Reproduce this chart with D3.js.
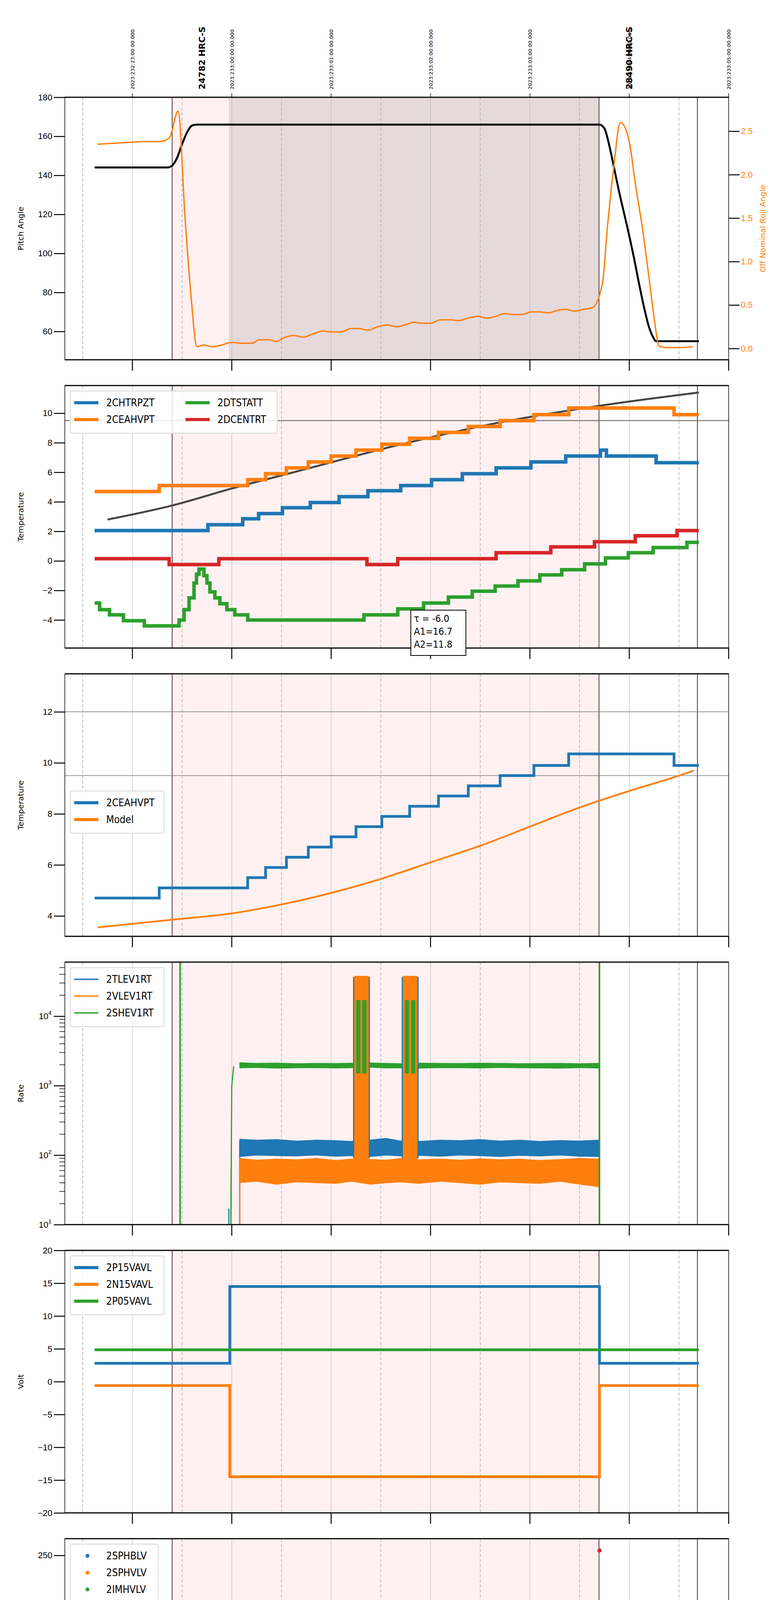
<!DOCTYPE html>
<html>
<head>
<meta charset="utf-8">
<script src="https://cdn.jsdelivr.net/npm/d3@7"></script>
<style>
html,body{margin:0;padding:0;background:#fff;width:2000px;height:6200px;overflow:hidden}
svg{display:block;font-family:"DejaVu Sans Condensed","DejaVu Sans",sans-serif}
.tick text{font-size:22px}
</style>
</head>
<body>
<div id="chart"></div>
<script>
// time in hours from 2023:233:00:00 UTC (20h local)
var hourTicks = [-1,0,1,2,3,4,5]
var hourLabels = ["19h","20h","21h","22h","23h","00h","01h"]
var halfTicks = [-1.5,-0.5,0.5,1.5,2.5,3.5,4.5]
var dateLabels = ["2023:232:23:00:00.000","2023:233:00:00:00.000","2023:233:01:00:00.000","2023:233:02:00:00.000","2023:233:03:00:00.000","2023:233:04:00:00.000","2023:233:05:00:00.000"]
var obsLines = [-0.6,3.695,4.685]
var obsLabels = [{t:-0.305,text:"24782 HRC-S"},{t:3.995,text:"28490 HRC-S"}]
var pinkSpan = [-0.6,3.695]
var darkSpan = [-0.03,3.695]

// panel 1
var pitch = [[-1.38,144],[-0.65,144],[-0.6,145],[-0.55,149],[-0.5,156],[-0.45,162],[-0.4,165.5],[-0.35,166],[3.7,166],[3.75,164],[3.8,155],[3.85,143],[3.9,131],[3.95,120],[4.0,109],[4.05,97],[4.1,84],[4.15,72],[4.2,62],[4.24,57],[4.27,55],[4.7,55]]
var roll = [[-1.35,2.35],[-1.2,2.36],[-1.05,2.37],[-0.9,2.38],[-0.73,2.38],[-0.63,2.42],[-0.54,2.73],[-0.47,1.5],[-0.41,0.6],[-0.35,0.02],[-0.28,0.04],[-0.2,0.02],[-0.1,0.04],[0,0.07],[0.1,0.06],[0.2,0.06],[0.28,0.1],[0.38,0.1],[0.45,0.08],[0.52,0.12],[0.62,0.15],[0.72,0.13],[0.8,0.16],[0.92,0.2],[1.0,0.19],[1.1,0.19],[1.2,0.23],[1.28,0.23],[1.37,0.21],[1.47,0.25],[1.57,0.27],[1.66,0.25],[1.74,0.27],[1.83,0.3],[1.92,0.29],[2.0,0.29],[2.1,0.33],[2.2,0.33],[2.28,0.32],[2.38,0.35],[2.48,0.37],[2.56,0.35],[2.66,0.37],[2.74,0.4],[2.84,0.39],[2.92,0.39],[3.01,0.42],[3.1,0.42],[3.19,0.41],[3.28,0.44],[3.36,0.45],[3.45,0.43],[3.54,0.45],[3.63,0.47],[3.73,0.75],[3.78,1.4],[3.84,2.05],[3.91,2.6],[4.0,2.38],[4.06,1.9],[4.13,1.4],[4.2,0.8],[4.25,0.35],[4.3,0.03],[4.37,0.01],[4.5,0.01],[4.64,0.02]]

// panel 2 (step data: value holds until next time)
var chtrpzt = [[-1.38,2.05],[-0.24,2.45],[0.11,2.85],[0.27,3.2],[0.51,3.6],[0.79,3.95],[1.08,4.35],[1.37,4.75],[1.7,5.1],[2.01,5.5],[2.32,5.9],[2.66,6.3],[3.01,6.7],[3.36,7.1],[3.71,7.5],[3.77,7.1],[4.27,6.65],[4.7,6.65]]
var ceahvpt = [[-1.38,4.7],[-0.73,5.1],[0.16,5.5],[0.34,5.9],[0.55,6.3],[0.77,6.7],[1.0,7.1],[1.25,7.5],[1.51,7.9],[1.79,8.3],[2.08,8.7],[2.38,9.1],[2.7,9.5],[3.04,9.9],[3.39,10.35],[4.45,9.9],[4.7,9.9]]
var dtstatt = [[-1.38,-2.85],[-1.33,-3.3],[-1.23,-3.65],[-1.09,-4.05],[-0.88,-4.4],[-0.53,-4.0],[-0.48,-3.3],[-0.43,-2.5],[-0.38,-1.5],[-0.355,-0.9],[-0.33,-0.55],[-0.28,-1.0],[-0.25,-1.5],[-0.22,-2.1],[-0.17,-2.5],[-0.12,-2.9],[-0.05,-3.3],[0.03,-3.65],[0.16,-4.0],[1.33,-3.65],[1.67,-3.25],[1.93,-2.85],[2.18,-2.45],[2.42,-2.05],[2.65,-1.7],[2.88,-1.35],[3.1,-0.95],[3.32,-0.6],[3.55,-0.2],[3.76,0.2],[3.99,0.55],[4.24,0.9],[4.58,1.25],[4.7,1.25]]
var dcentrt = [[-1.38,0.15],[-0.63,-0.25],[-0.13,0.15],[1.36,-0.25],[1.67,0.15],[2.66,0.55],[3.21,0.95],[3.65,1.3],[4.06,1.7],[4.48,2.05],[4.7,2.05]]
var tempModel = [[-1.25,2.8],[-0.6,3.75],[0,4.9],[0.68,6.1],[1.68,7.85],[2.68,9.35],[3.7,10.5],[4.7,11.4]]
var tauText = ["τ = -6.0","A1=16.7","A2=11.8"]

// panel 3
var ceaModel = [[-1.35,3.55],[-0.6,3.85],[0,4.1],[0.5,4.45],[1,4.9],[1.5,5.45],[2,6.1],[2.5,6.75],[3,7.5],[3.5,8.25],[4,8.9],[4.5,9.5],[4.65,9.7]]

// panel 4 rates: noise envelopes (low/high)
var envT   = [0.08,0.25,0.45,0.65,0.85,1.05,1.2,1.4,1.55,1.7,1.88,2.1,2.3,2.5,2.7,2.9,3.1,3.3,3.5,3.69]
var tlevHi = [170,165,168,160,165,162,158,166,175,160,158,165,162,168,160,165,158,163,160,165]
var tlevLo = [95,100,98,97,100,96,98,95,100,97,99,96,100,98,95,99,97,100,96,95]
var vlevHi = [90,85,88,86,90,84,88,87,85,90,86,88,85,89,86,88,84,87,90,88]
var vlevLo = [40,42,38,41,40,39,42,38,40,41,39,42,40,38,41,40,39,42,38,35]
var shevHi = [2150,2100,2120,2080,2100,2090,2110,2130,2100,2080,2120,2100,2090,2110,2100,2080,2090,2100,2080,2100]
var shevLo = [1800,1820,1780,1800,1810,1790,1800,1830,1790,1800,1780,1810,1800,1790,1820,1800,1790,1780,1810,1790]
var rateBursts = [[1.22,1.39],[1.71,1.88]]
var burstHigh = {tlev:35000,vlev:38000,shev:17000}
var shevSpikes = [-0.52,3.7]

// panel 5 volts
var p15 = [[-1.38,2.8],[-0.02,14.5],[3.7,2.8],[4.7,2.8]]
var n15 = [[-1.38,-0.6],[-0.02,-14.5],[3.7,-0.6],[4.7,-0.6]]
var p05 = [[-1.38,4.85],[4.7,4.85]]

// panel 6 HV monitor
var sphblvPts = [[0.03,118],[0.03,102],[0.04,102],[0.05,97],[0.06,92],[0.065,88],[0.07,85],[0.08,82],[0.09,78]]
var sphvlvPts = [[0.03,127],[0.03,123],[0.035,96],[0.045,90],[0.055,86],[0.06,84],[0.065,80],[0.075,75],[0.08,71],[1.23,127],[1.3,127],[1.35,127],[1.78,127],[1.8,127],[1.83,127],[1.9,127]]
var imhblvPts = [[3.7,255]]
var sphblvRun = [0.09,3.7,77.5]
var sphvlvRun = [0.08,3.7,70.5]

// panel 7 detector temps
var spinatm = [[0.0,4.15],[0.11,3.7],[0.25,3.25],[0.56,2.8],[1.2,3.25],[2.2,3.7],[2.86,4.15],[3.67,4.6],[3.7,4.6]]
var sphvatm = [[0.0,14.4],[0.17,14.8],[0.24,15.1],[0.3,15.4],[0.38,15.8],[0.5,16.1],[0.59,16.4],[0.67,16.7],[0.77,17.0],[0.87,17.3],[0.99,17.6],[1.12,17.9],[1.25,18.2],[1.3,18.5],[1.4,18.7],[1.5,19.0],[1.7,19.4],[1.88,19.6],[2.16,19.9],[2.42,20.2],[2.67,20.5],[2.99,20.8],[3.28,21.1],[3.7,21.1]]
var iminatm = [[0.0,0.2],[0.08,0.6],[1.7,1.05],[2.95,1.45],[3.65,1.95],[3.7,1.95]]
var imhvatm = [[0.0,13.9],[0.43,14.2],[0.68,14.5],[0.91,14.75],[1.12,15.0],[1.35,15.5],[1.7,15.8],[1.88,16.1],[2.28,16.4],[2.55,16.65],[2.8,16.95],[3.07,17.25],[3.37,17.5],[3.66,17.9],[3.7,17.9]]
var detBlocks = [
  {s:0,t0:1.2,t1:1.4,lo:-0.8,hi:2.8},{s:0,t0:1.7,t1:1.85,lo:-0.8,hi:0.9},
  {s:1,t0:1.2,t1:1.4,lo:10.8,hi:18.5},{s:1,t0:1.7,t1:1.88,lo:11.4,hi:19.4},
  {s:2,t0:1.2,t1:1.4,lo:0.6,hi:3.3},{s:2,t0:1.7,t1:1.88,lo:1.0,hi:3.3},
  {s:3,t0:1.2,t1:1.4,lo:15.2,hi:18.7},{s:3,t0:1.7,t1:1.88,lo:15.8,hi:19.4}]
var detVert = [{s:3,t:-0.02,lo:-0.8,hi:13.9},{s:3,t:3.71,lo:-0.8,hi:22},{s:1,t:1.89,lo:1.1,hi:19.6}]

// panel 8 FEA temps
var fhtrmzt = [[0.13,-8.3],[0.14,-8.0],[0.26,-7.6],[0.38,-7.15],[0.5,-6.75],[0.6,-6.35],[0.71,-5.95],[0.795,-4.4],[0.8,-5.55],[0.94,-5.2],[1.06,-4.8],[1.18,-4.4],[1.3,-4.0],[1.43,-3.6],[1.62,-3.3],[1.67,-2.85],[1.8,-2.5],[1.81,-1.35],[1.815,-2.5],[1.94,-2.1],[2.07,-1.75],[2.2,-1.4],[2.35,-1.05],[2.48,-0.65],[2.62,-0.25],[2.77,0.15],[2.92,0.5],[3.07,0.9],[3.22,1.25],[3.38,1.65],[3.53,2.0],[3.7,2.4],[4.15,2.05],[4.4,1.65],[4.63,1.25],[4.7,1.25]]
var fradpyt = [[0.5,-8.3],[0.51,-8.0],[0.63,-7.6],[0.74,-7.2],[0.86,-6.8],[0.98,-6.4],[1.1,-6.0],[1.24,-5.6],[1.37,-5.2],[1.5,-4.8],[1.63,-4.4],[1.77,-4.0],[1.91,-3.65],[2.05,-3.3],[2.19,-2.9],[2.34,-2.5],[2.49,-2.15],[2.64,-1.75],[2.79,-1.35],[2.96,-1.0],[3.12,-0.6],[3.3,-0.25],[3.46,0.15],[3.63,0.55],[3.92,0.15],[4.08,-0.25],[4.21,-0.6],[4.36,-1.0],[4.52,-1.4],[4.7,-1.4]]
var fepratm = [[-0.02,-7.5],[0.0,-7.0],[0.05,-6.6],[0.1,-6.2],[0.15,-5.8],[0.2,-5.4],[0.26,-5.0],[0.35,-4.6],[0.43,-4.2],[0.53,-3.8],[0.65,-3.4],[0.76,-3.0],[0.86,-2.6],[0.98,-2.2],[1.1,-1.8],[1.23,-1.4],[1.36,-1.0],[1.48,-0.6],[1.63,-0.2],[1.77,0.2],[1.92,0.6],[2.0,1.1],[2.23,1.5],[2.4,1.9],[2.56,2.35],[2.73,2.8],[2.91,3.25],[3.1,3.7],[3.27,4.15],[3.47,4.6],[3.48,4.6]]
var fe00atm = [[-0.02,-6.3],[0.08,-5.95],[0.17,-5.6],[0.26,-5.25],[0.355,-4.9],[0.43,-4.5],[0.505,-4.15],[0.59,-3.8],[0.655,-3.45],[0.77,-3.05],[0.87,-2.8],[0.97,-2.45],[1.1,-2.05],[1.23,-1.45],[1.41,-1.25],[1.62,-0.15],[1.81,0.5],[1.92,0.8],[2.1,1.1],[2.135,1.4],[2.245,1.75],[2.36,2.05],[2.47,2.35],[2.595,2.65],[2.71,2.95],[2.83,3.25],[2.945,3.55],[3.07,3.85],[3.185,4.15],[3.31,4.4],[3.35,4.6]]
var feaBlocks = [
  {s:2,t0:1.2,t1:1.4,lo:-4.7,hi:-0.6},{s:2,t0:1.72,t1:1.88,lo:-4.7,hi:1.0},
  {s:3,t0:1.2,t1:1.4,lo:-1.0,hi:4.6},{s:3,t0:1.69,t1:1.88,lo:0.5,hi:4.6}]
var feaVert = [{s:3,t:-0.02,lo:-8.3,hi:-6.3},{s:3,t:1.91,lo:-8.3,hi:1.1},{s:3,t:3.71,lo:-8.3,hi:4.6}]

var C = ["#1f77b4","#ff7f0e","#2ca02c","#d62728"]

var W = 2000, H = 6200
var X0 = 166, X1 = 1866
var TOP = 249, STEP = 738, PH = 672

var svg = d3.select("#chart").append("svg").attr("width",W).attr("height",H)
var x = d3.scaleLinear().domain([-1.68,5]).range([X0,X1])

function panel(i, domain, label, log, nt){
    var top = TOP + i*STEP
    var y = (log ? d3.scaleLog() : d3.scaleLinear()).domain(domain).range([top+PH, top])
    var g = svg.append("g")
    g.append("rect").attr("x",x(pinkSpan[0])).attr("width",x(pinkSpan[1])-x(pinkSpan[0]))
        .attr("y",top).attr("height",PH).attr("fill","#fff1f1")
    if(i==0){
        g.append("rect").attr("x",x(darkSpan[0])).attr("width",x(darkSpan[1])-x(darkSpan[0]))
            .attr("y",top).attr("height",PH).attr("fill","#e5d9d9")
    }
    g.selectAll(".hg").data(hourTicks.slice(0,6)).enter().append("line")
        .attr("x1",d=>x(d)).attr("x2",d=>x(d)).attr("y1",top).attr("y2",top+PH)
        .attr("stroke","#bbb").attr("stroke-width",1.2)
    g.selectAll(".dg").data(halfTicks).enter().append("line")
        .attr("x1",d=>x(d)).attr("x2",d=>x(d)).attr("y1",top).attr("y2",top+PH)
        .attr("stroke","#aaa").attr("stroke-width",1.5).attr("stroke-dasharray","8,5")
    g.selectAll(".ob").data(obsLines).enter().append("line")
        .attr("x1",d=>x(d)).attr("x2",d=>x(d)).attr("y1",top).attr("y2",top+PH)
        .attr("stroke","#000").attr("stroke-width",1.5)
    var plot = svg.append("g")
    var clip = "clip"+i
    svg.append("clipPath").attr("id",clip).append("rect").attr("x",X0).attr("y",top).attr("width",X1-X0).attr("height",PH)
    plot.attr("clip-path","url(#"+clip+")")

    var yAxis = log ? d3.axisLeft(y).tickValues([10,100,1000,10000]).tickFormat("") : d3.axisLeft(y).ticks(nt||8)
    var ya = svg.append("g").attr("transform","translate("+X0+",0)").call(yAxis.tickSizeOuter(0).tickSize(28).tickPadding(4))
    ya.select(".domain").remove()
    ya.selectAll(".tick line").attr("stroke-width",2.5)
    if(log){
        var minor = []
        for(var e=10; e<100000; e*=10) for(var k=2;k<10;k++) if(e*k<domain[1]) minor.push(e*k)
        svg.append("g").selectAll("line").data(minor).enter().append("line")
            .attr("x1",X0-14).attr("x2",X0).attr("y1",d=>y(d)).attr("y2",d=>y(d)).attr("stroke","#000").attr("stroke-width",1.5)
        ya.selectAll(".tick").append("text").attr("x",-34).attr("dy","0.32em").attr("text-anchor","end").attr("fill","#000")
            .style("font-size","22px").each(function(d){
                var t = d3.select(this)
                t.append("tspan").text("10")
                t.append("tspan").attr("dy","-0.7em").style("font-size","15px").text(Math.round(Math.log10(d)))
            })
    } else {
        ya.selectAll(".tick text").text(d=>String(d).replace("-","\u2212"))
    }
    // x ticks at bottom
    var xb = svg.append("g")
    xb.selectAll(".mj").data(hourTicks).enter().append("line")
        .attr("x1",d=>x(d)).attr("x2",d=>x(d)).attr("y1",top+PH).attr("y2",top+PH+28).attr("stroke","#000").attr("stroke-width",2.5)
    if(i==7){
        xb.selectAll(".mn").data(halfTicks).enter().append("line")
            .attr("x1",d=>x(d)).attr("x2",d=>x(d)).attr("y1",top+PH).attr("y2",top+PH+10).attr("stroke","#000").attr("stroke-width",1.5)
        xb.selectAll(".mt").data(halfTicks).enter().append("text").attr("x",d=>x(d)).attr("y",top+PH+36)
            .attr("text-anchor","middle").style("font-size","15px").text("30")
        xb.selectAll(".ht").data(hourTicks).enter().append("text").attr("x",d=>x(d)).attr("y",top+PH+76)
            .attr("text-anchor","middle").style("font-size","28px").text((d,j)=>hourLabels[j])
        xb.append("text").attr("x",(X0+X1)/2).attr("y",top+PH+114).attr("text-anchor","middle")
            .style("font-size","30px").text("2023-08-21 (233)")
    }
    // frame
    svg.append("rect").attr("x",X0).attr("y",top).attr("width",X1-X0).attr("height",PH)
        .attr("fill","none").attr("stroke","#000").attr("stroke-width",1.5)
    svg.append("line").attr("x1",X0).attr("x2",X1).attr("y1",top).attr("y2",top).attr("stroke","#000").attr("stroke-width",3)
    svg.append("line").attr("x1",X0).attr("x2",X1).attr("y1",top+PH).attr("y2",top+PH).attr("stroke","#000").attr("stroke-width",3)
    svg.append("text").attr("transform","translate(60,"+(top+PH/2)+") rotate(-90)").attr("text-anchor","middle")
        .style("font-family","'DejaVu Sans'").style("font-size","20px").text(label)
    return {g:plot, y:y, top:top}
}

function stepLine(p, data, color, w){
    p.g.append("path").datum(data).attr("fill","none").attr("stroke",color).attr("stroke-width",w)
        .attr("d",d3.line().x(d=>x(d[0])).y(d=>p.y(d[1])).curve(d3.curveStepAfter))
}
function smoothLine(p, data, color, w, y){
    p.g.append("path").datum(data).attr("fill","none").attr("stroke",color).attr("stroke-width",w)
        .attr("stroke-linejoin","round")
        .attr("d",d3.line().x(d=>x(d[0])).y(d=>(y||p.y)(d[1])).curve(d3.curveMonotoneX))
}
function legend(p, names, colors, opts){
    opts = opts || {}
    var cols = opts.cols || 1, rowH = opts.rowH || 43, colW = opts.colW || 220
    var rows = Math.ceil(names.length/cols)
    var lx = X0+14, ly = p.top+(opts.dy||14)
    var g = svg.append("g")
    g.append("rect").attr("x",lx).attr("y",ly).attr("rx",5).attr("width",opts.w || 245).attr("height",rows*rowH+22)
        .attr("fill","#fff").attr("fill-opacity",0.85).attr("stroke","#ddd").attr("stroke-width",2.5)
    names.forEach(function(n,j){
        var c = Math.floor(j/rows), r = j%rows
        var cx = lx+10+c*colW, cy = ly+30+r*rowH
        if(opts.dot){
            g.append("circle").attr("cx",cx+34).attr("cy",cy).attr("r",5).attr("fill",colors[j])
        } else {
            g.append("line").attr("x1",cx).attr("x2",cx+62).attr("y1",cy).attr("y2",cy)
                .attr("stroke",colors[j]).attr("stroke-width",opts.lw||8)
        }
        g.append("text").attr("x",cx+82).attr("y",cy).attr("dy","0.35em").style("font-size","26px").text(n)
    })
}

// ---------- panel 1
var p1 = panel(0,[45.5,180],"Pitch Angle")
var yRoll = d3.scaleLinear().domain([-0.13,2.89]).range([p1.top+PH,p1.top])
smoothLine(p1, pitch, "#000", 5)
smoothLine(p1, roll, C[1], 3.5, yRoll)
var ra = svg.append("g").attr("transform","translate("+X1+",0)")
    .call(d3.axisRight(yRoll).tickValues([0,0.5,1,1.5,2,2.5]).tickFormat(d3.format(".1f")).tickSize(28).tickSizeOuter(0))
ra.select(".domain").remove()
ra.selectAll(".tick line").attr("stroke","#000").attr("stroke-width",2.5)
ra.selectAll(".tick text").attr("fill",C[1])
svg.append("text").attr("transform","translate(1960,"+(p1.top+PH/2)+") rotate(-90)").attr("text-anchor","middle")
    .style("font-family","'DejaVu Sans'").style("font-size","20px").attr("fill",C[1]).text("Off Nominal Roll Angle")
// top ticks & date labels
svg.selectAll(".tt").data(hourTicks).enter().append("line").attr("x1",d=>x(d)).attr("x2",d=>x(d))
    .attr("y1",p1.top-10).attr("y2",p1.top).attr("stroke","#000").attr("stroke-width",1.5)
svg.selectAll(".dl").data(dateLabels).enter().append("text")
    .attr("transform",(d,j)=>"translate("+(x(hourTicks[j])+5)+","+(p1.top-20)+") rotate(-90)")
    .style("font-family","'DejaVu Sans'").style("font-size","13px").text(d=>d)
svg.selectAll(".ol").data(obsLabels).enter().append("text")
    .attr("transform",d=>"translate("+(x(d.t)+9)+","+(p1.top-20)+") rotate(-90)")
    .style("font-family","'DejaVu Sans'").style("font-size","22px").style("font-weight","bold").text(d=>d.text)

// ---------- panel 2
var p2 = panel(1,[-5.9,11.87],"Temperature")
p2.g.append("line").attr("x1",X0).attr("x2",X1).attr("y1",p2.y(9.5)).attr("y2",p2.y(9.5)).attr("stroke","#777").attr("stroke-width",2.5)
smoothLine(p2, tempModel, "#444", 5)
stepLine(p2, chtrpzt, C[0], 9)
stepLine(p2, ceahvpt, C[1], 9)
stepLine(p2, dtstatt, C[2], 9)
stepLine(p2, dcentrt, C[3], 9)
legend(p2, ["2CHTRPZT","2CEAHVPT","2DTSTATT","2DCENTRT"], C, {cols:2, colW:285, w:530, dy:14})
var tb = svg.append("g")
tb.append("rect").attr("x",1052).attr("y",1562).attr("width",141).attr("height",116).attr("fill","#fff").attr("stroke","#000").attr("stroke-width",2)
tb.selectAll("text").data(tauText).enter().append("text").attr("x",1060).attr("y",(d,j)=>1592+j*33)
    .style("font-size","25px").text(d=>d)

// ---------- panel 3
var p3 = panel(2,[3.2,13.49],"Temperature",false,5)
;[12,9.5].forEach(function(v){
    p3.g.append("line").attr("x1",X0).attr("x2",X1).attr("y1",p3.y(v)).attr("y2",p3.y(v)).attr("stroke","#777").attr("stroke-width",1.5)
})
stepLine(p3, ceahvpt, C[0], 7)
smoothLine(p3, ceaModel, C[1], 4.5)
legend(p3, ["2CEAHVPT","Model"], [C[0],C[1]], {dy:300, w:240})

// ---------- panel 4
var p4 = panel(3,[10,60000],"Rate",true)
function band(hi, lo, color){
    var d = envT.map((t,j)=>[t,lo[j],hi[j]])
    p4.g.append("path").datum(d).attr("fill",color).attr("stroke",color).attr("stroke-width",1.5)
        .attr("d",d3.area().x(d=>x(d[0])).y0(d=>p4.y(d[1])).y1(d=>p4.y(d[2])))
}
p4.g.append("line").attr("x1",x(-0.03)).attr("x2",x(-0.03)).attr("y1",p4.y(10)).attr("y2",p4.y(17)).attr("stroke",C[0]).attr("stroke-width",3)
p4.g.append("line").attr("x1",x(0.08)).attr("x2",x(0.08)).attr("y1",p4.y(10)).attr("y2",p4.y(160)).attr("stroke",C[0]).attr("stroke-width",3)
band(tlevHi, tlevLo, C[0])
p4.g.append("line").attr("x1",x(0.08)).attr("x2",x(0.08)).attr("y1",p4.y(10)).attr("y2",p4.y(85)).attr("stroke",C[1]).attr("stroke-width",3)
band(vlevHi, vlevLo, C[1])
p4.g.append("path").datum([[-0.01,10],[0.0,1000],[0.02,1900]]).attr("fill","none").attr("stroke",C[2]).attr("stroke-width",3)
    .attr("d",d3.line().x(d=>x(d[0])).y(d=>p4.y(d[1])))
band(shevHi, shevLo, C[2])
rateBursts.forEach(function(b){
    var bx0 = x(b[0]), bw = x(b[1])-x(b[0])
    p4.g.append("rect").attr("x",bx0).attr("width",bw).attr("y",p4.y(burstHigh.tlev*1.05)).attr("height",p4.y(90)-p4.y(burstHigh.tlev*1.05)).attr("fill",C[0])
    p4.g.append("rect").attr("x",bx0+3).attr("width",bw-6).attr("y",p4.y(burstHigh.vlev)).attr("height",p4.y(45)-p4.y(burstHigh.vlev)).attr("fill",C[1])
    p4.g.append("rect").attr("x",bx0+8).attr("width",bw*0.25).attr("y",p4.y(burstHigh.shev)).attr("height",p4.y(1500)-p4.y(burstHigh.shev)).attr("fill",C[2])
    p4.g.append("rect").attr("x",bx0+bw*0.55).attr("width",bw*0.25).attr("y",p4.y(burstHigh.shev)).attr("height",p4.y(1500)-p4.y(burstHigh.shev)).attr("fill",C[2])
})
shevSpikes.forEach(function(t){
    p4.g.append("line").attr("x1",x(t)).attr("x2",x(t)).attr("y1",p4.y(10)).attr("y2",p4.y(60000)).attr("stroke",C[2]).attr("stroke-width",4)
})
legend(p4, ["2TLEV1RT","2VLEV1RT","2SHEV1RT"], [C[0],C[1],C[2]], {lw:3.5, w:240})

// ---------- panel 5
var p5 = panel(4,[-20,20],"Volt")
stepLine(p5, p15, C[0], 7)
stepLine(p5, n15, C[1], 7)
stepLine(p5, p05, C[2], 7)
legend(p5, ["2P15VAVL","2N15VAVL","2P05VAVL"], [C[0],C[1],C[2]], {w:240})

// ---------- panel 6
var p6 = panel(5,[0,267],"HV Monitor")
function run(r, color){
    p6.g.append("line").attr("x1",x(r[0])).attr("x2",x(r[1])).attr("y1",p6.y(r[2])).attr("y2",p6.y(r[2]))
        .attr("stroke",color).attr("stroke-width",11).attr("stroke-linecap","round")
}
run(sphblvRun, C[0])
run(sphvlvRun, C[1])
function pts(data, color){
    p6.g.append("g").selectAll("circle").data(data).enter().append("circle")
        .attr("cx",d=>x(d[0])).attr("cy",d=>p6.y(d[1])).attr("r",5.5).attr("fill",color)
}
pts(sphblvPts, C[0])
pts(sphvlvPts, C[1])
pts(imhblvPts, C[3])
legend(p6, ["2SPHBLV","2SPHVLV","2IMHVLV","2IMHBLV"], C, {dot:true, w:225})

// ---------- panel 7
var p7 = panel(6,[-0.78,21.85],"Detector Temp")
function blocks(p, list){
    list.forEach(function(b){
        p.g.append("rect").attr("x",x(b.t0)).attr("width",x(b.t1)-x(b.t0))
            .attr("y",p.y(b.hi)).attr("height",p.y(b.lo)-p.y(b.hi)).attr("fill",C[b.s])
    })
}
function verts(p, list){
    list.forEach(function(v){
        p.g.append("line").attr("x1",x(v.t)).attr("x2",x(v.t)).attr("y1",p.y(v.lo)).attr("y2",p.y(v.hi))
            .attr("stroke",C[v.s]).attr("stroke-width",v.s==1?3:6)
    })
}
stepLine(p7, spinatm, C[0], 9)
stepLine(p7, sphvatm, C[1], 9)
stepLine(p7, iminatm, C[2], 9)
stepLine(p7, imhvatm, C[3], 9)
blocks(p7, detBlocks)
verts(p7, detVert)
legend(p7, ["2SPINATM","2SPHVATM","2IMINATM","2IMHVATM"], C, {rowH:82, dy:14, w:248})

// ---------- panel 8
var p8 = panel(7,[-8.23,4.54],"FEA Temp")
stepLine(p8, fhtrmzt, C[0], 7)
stepLine(p8, fradpyt, C[1], 7)
stepLine(p8, fepratm, C[2], 7)
stepLine(p8, fe00atm, C[3], 7)
blocks(p8, feaBlocks)
verts(p8, feaVert)
legend(p8, ["2FHTRMZT","2FRADPYT","2FEPRATM","2FE00ATM"], C, {rowH:42, dy:14, w:250})
</script>
</body>
</html>
